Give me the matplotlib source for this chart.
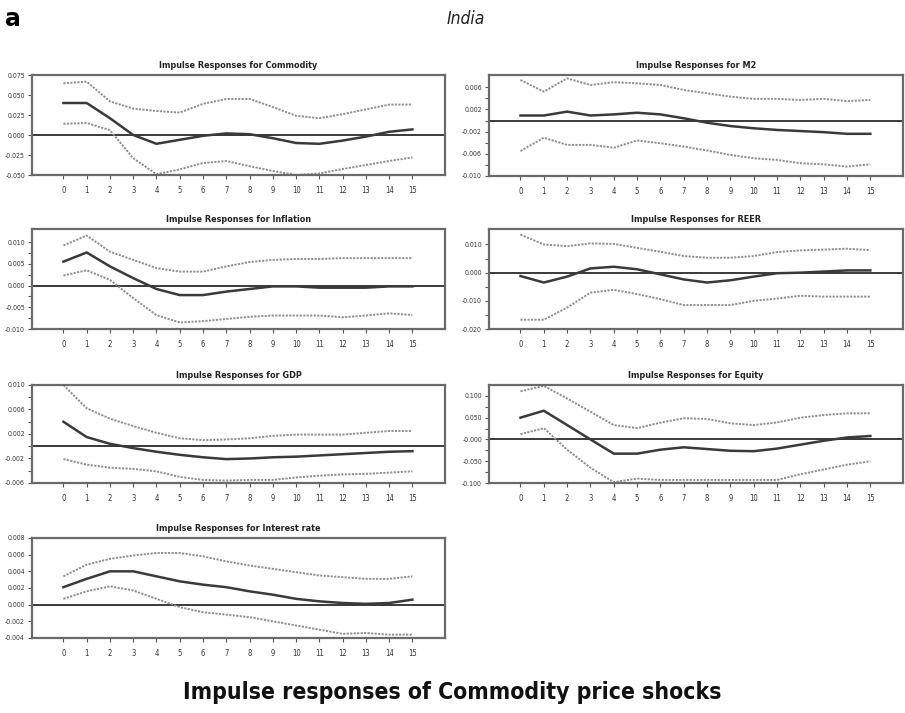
import matplotlib
matplotlib.use("Agg")
import matplotlib.pyplot as plt
from matplotlib.ticker import FixedLocator
import numpy as np

plt.rcParams['font.family'] = ['DejaVu Sans']
plt.rcParams['font.stretch'] = 'condensed'

horizon = list(range(16))

commodity_resp = [0.040, 0.040, 0.021, 0.000, -0.011, -0.006, -0.001, 0.002, 0.001, -0.004, -0.010, -0.011, -0.007, -0.002, 0.004, 0.007]
commodity_up = [0.0646, 0.0667, 0.042, 0.033, 0.030, 0.028, 0.039, 0.045, 0.045, 0.035, 0.024, 0.021, 0.026, 0.032, 0.038, 0.038]
commodity_lo = [0.014, 0.015, 0.006, -0.029, -0.049, -0.043, -0.035, -0.0325, -0.039, -0.045, -0.050, -0.048, -0.0425, -0.0375, -0.0325, -0.028]

m2_resp = [0.0009, 0.0009, 0.0016, 0.0009, 0.0011, 0.0014, 0.0011, 0.0004, -0.0004, -0.0010, -0.0014, -0.0017, -0.0019, -0.0021, -0.0024, -0.0024]
m2_up = [0.0073, 0.0052, 0.0076, 0.0064, 0.0069, 0.0067, 0.0064, 0.0055, 0.0049, 0.0043, 0.0039, 0.0039, 0.0037, 0.0039, 0.0035, 0.0037]
m2_lo = [-0.0055, -0.0031, -0.0044, -0.0044, -0.0049, -0.0036, -0.0041, -0.0047, -0.0054, -0.0062, -0.0068, -0.0071, -0.0077, -0.0079, -0.0083, -0.0079]

infl_resp = [0.0055, 0.0076, 0.0044, 0.0017, -0.0008, -0.0022, -0.0022, -0.0014, -0.0008, -0.0002, -0.0002, -0.0005, -0.0005, -0.0005, -0.0002, -0.0002]
infl_up = [0.0092, 0.0115, 0.0078, 0.0059, 0.0040, 0.0032, 0.0032, 0.0044, 0.0054, 0.0059, 0.0061, 0.0061, 0.0063, 0.0063, 0.0063, 0.0063]
infl_lo = [0.0023, 0.0035, 0.0013, -0.0029, -0.0068, -0.0085, -0.0082, -0.0077, -0.0072, -0.0069, -0.0069, -0.0069, -0.0073, -0.0069, -0.0064, -0.0068]

reer_resp = [-0.0012, -0.0035, -0.0014, 0.0015, 0.0021, 0.0012, -0.0006, -0.0024, -0.0035, -0.0027, -0.0014, -0.0002, 0.0000, 0.0004, 0.0008, 0.0008]
reer_up = [0.0135, 0.0100, 0.0094, 0.0104, 0.0102, 0.0088, 0.0074, 0.0059, 0.0053, 0.0053, 0.0059, 0.0073, 0.0079, 0.0082, 0.0085, 0.0080]
reer_lo = [-0.0167, -0.0167, -0.0124, -0.0071, -0.0061, -0.0076, -0.0094, -0.0115, -0.0115, -0.0115, -0.0100, -0.0092, -0.0082, -0.0085, -0.0085, -0.0085]

gdp_resp = [0.0040, 0.0015, 0.0004, -0.0003, -0.0009, -0.0014, -0.0018, -0.0021, -0.0020, -0.0018, -0.0017, -0.0015, -0.0013, -0.0011, -0.0009, -0.0008]
gdp_up = [0.0100, 0.0062, 0.0045, 0.0033, 0.0022, 0.0013, 0.0010, 0.0011, 0.0013, 0.0017, 0.0019, 0.0019, 0.0019, 0.0022, 0.0025, 0.0025]
gdp_lo = [-0.0021, -0.0030, -0.0035, -0.0037, -0.0041, -0.0050, -0.0055, -0.0056, -0.0055, -0.0055, -0.0051, -0.0048, -0.0046, -0.0045, -0.0043, -0.0041]

equity_resp = [0.050, 0.066, 0.033, 0.000, -0.0326, -0.0326, -0.0235, -0.018, -0.022, -0.026, -0.027, -0.021, -0.012, -0.003, 0.0045, 0.008]
equity_up = [0.1106, 0.123, 0.094, 0.0636, 0.033, 0.026, 0.0386, 0.0485, 0.047, 0.037, 0.033, 0.039, 0.050, 0.056, 0.060, 0.060]
equity_lo = [0.012, 0.026, -0.0235, -0.065, -0.098, -0.090, -0.093, -0.093, -0.093, -0.093, -0.093, -0.093, -0.080, -0.069, -0.058, -0.050]

rate_resp = [0.0021, 0.0031, 0.0040, 0.0040, 0.0034, 0.0028, 0.0024, 0.0021, 0.0016, 0.0012, 0.0007, 0.0004, 0.0002, 0.0001, 0.0002, 0.0006]
rate_up = [0.0034, 0.0048, 0.0055, 0.0059, 0.0062, 0.0062, 0.0058, 0.0052, 0.0047, 0.0043, 0.0039, 0.0035, 0.0033, 0.0031, 0.0031, 0.0034]
rate_lo = [0.0007, 0.0016, 0.0022, 0.0017, 0.0007, -0.0003, -0.0009, -0.0012, -0.0015, -0.0020, -0.0025, -0.0030, -0.0035, -0.0034, -0.0036, -0.0036]

panel_titles = ["Impulse Responses for Commodity", "Impulse Responses for M2",
                "Impulse Responses for Inflation", "Impulse Responses for REER",
                "Impulse Responses for GDP", "Impulse Responses for Equity",
                "Impulse Responses for Interest rate"]

ytick_vals = [
    [0.075, 0.050, 0.025, 0.000, -0.025, -0.050],
    [0.006, 0.002, -0.002, -0.006, -0.010],
    [0.010, 0.005, 0.000, -0.005, -0.010],
    [0.010, 0.000, -0.010, -0.020],
    [0.010, 0.006, 0.002, -0.002, -0.006],
    [0.100, 0.050, 0.000, -0.050, -0.100],
    [0.008, 0.006, 0.004, 0.002, 0.000, -0.002, -0.004],
]
ytick_text = [
    ["0.075", "0.050", "0.025", "0.000", "-0.025", "-0.050"],
    ["0.006", "0.002", "-0.002", "-0.006", "-0.010"],
    ["0.010", "0.005", "0.000", "-0.005", "-0.010"],
    ["0.010", "0.000", "-0.010", "-0.020"],
    ["0.010", "0.006", "0.002", "-0.002", "-0.006"],
    ["0.100", "0.050", "-0.000", "-0.050", "-0.100"],
    ["0.008", "0.006", "0.004", "0.002", "0.000", "-0.002", "-0.004"],
]
ytick_minor = [
    [],
    [0.004, 0.000, -0.004, -0.008],
    [0.0075, 0.0025, -0.0025, -0.0075],
    [0.005, -0.005, -0.015],
    [0.008, 0.004, 0.000, -0.004],
    [0.075, 0.025, -0.025, -0.075],
    [],
]
ylims = [(-0.050, 0.075), (-0.010, 0.0082), (-0.010, 0.013), (-0.020, 0.0155),
         (-0.006, 0.010), (-0.100, 0.125), (-0.004, 0.008)]

series = [
    (commodity_resp, commodity_up, commodity_lo),
    (m2_resp, m2_up, m2_lo),
    (infl_resp, infl_up, infl_lo),
    (reer_resp, reer_up, reer_lo),
    (gdp_resp, gdp_up, gdp_lo),
    (equity_resp, equity_up, equity_lo),
    (rate_resp, rate_up, rate_lo),
]

W, H = 905, 713
fig = plt.figure(figsize=(W / 100, H / 100), dpi=100)

# panel boxes in pixels: (left, top, right, bottom)
boxes = [
    (32, 75, 445, 175), (489, 75, 903, 176),
    (32, 229, 445, 329), (489, 229, 903, 329),
    (32, 385, 445, 483), (489, 385, 903, 483),
    (32, 538, 445, 638),
]

for i, (box, (resp, up, lo)) in enumerate(zip(boxes, series)):
    l, t, r, b = box
    ax = fig.add_axes([l / W, 1 - b / H, (r - l) / W, (b - t) / H])
    ax.plot(horizon, up, color='#8e8e8e', lw=1.4, ls=(0, (1.1, 0.7)))
    ax.plot(horizon, lo, color='#8e8e8e', lw=1.4, ls=(0, (1.1, 0.7)))
    ax.plot(horizon, resp, color='#3a3a3a', lw=1.8)
    ax.axhline(0, color='#2a2a2a', lw=1.3, zorder=1)
    ax.set_xlim(-1.35, 16.4)
    ax.set_ylim(*ylims[i])
    ax.set_xticks(horizon)
    ax.set_xticklabels([str(h) for h in horizon], fontsize=5.5, color='#333333')
    ax.yaxis.set_major_locator(FixedLocator(ytick_vals[i]))
    ax.set_yticklabels(ytick_text[i], fontsize=5, color='#333333')
    if ytick_minor[i]:
        ax.yaxis.set_minor_locator(FixedLocator(ytick_minor[i]))
    ax.tick_params(axis='both', which='both', direction='out', length=3,
                   width=0.8, color='#555555', pad=2)
    ax.tick_params(axis='x', pad=5)
    for s in ax.spines.values():
        s.set_color('#6a6a6a')
        s.set_linewidth(1.6)
    ax.set_title(panel_titles[i], fontsize=6.5, fontweight='bold', pad=5,
                 color='#222222')

fig.text(5 / W, 1 - 19 / H, "a", fontsize=17, fontweight='bold',
         va='center', ha='left', fontstretch='normal')
fig.text(466 / W, 1 - 19 / H, "India", fontsize=12.5, style='italic',
         va='center', ha='center', color='#222222')
fig.text(452 / W, 1 - 692 / H, "Impulse responses of Commodity price shocks",
         fontsize=16.5, fontweight='bold', va='center', ha='center', color='#111111')

fig.savefig("out.png", dpi=100)
